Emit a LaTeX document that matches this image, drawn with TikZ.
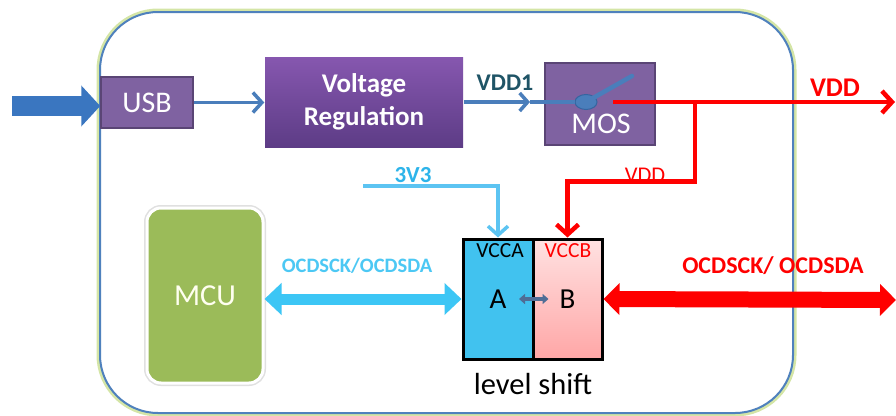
\documentclass[tikz,border=0pt]{standalone}
\usepackage{fontspec}
\setmainfont{Carlito}
\usepackage{xcolor}
\usepackage{tikz}
\usetikzlibrary{arrows.meta, calc, positioning, shapes.geometric}
\definecolor{frameblue}{HTML}{4F81BD}
\definecolor{glowgreen}{HTML}{D4E5A6}
\definecolor{usbpurple}{HTML}{7F62A1}
\definecolor{darkpurple}{HTML}{5A4575}
\definecolor{vregtop}{HTML}{8657AF}
\definecolor{vregbot}{HTML}{5D3C86}
\definecolor{wireblue}{HTML}{4A7EBB}
\definecolor{pivotdark}{HTML}{3565A0}
\definecolor{inblue}{HTML}{3A76C0}
\definecolor{tealtext}{HTML}{1F5466}
\definecolor{skyline}{HTML}{5CC4F2}
\definecolor{skytext}{HTML}{2DB4EA}
\definecolor{skylbl}{HTML}{4CC8F4}
\definecolor{busblue}{HTML}{3CC6F5}
\definecolor{afill}{HTML}{41C2EF}
\definecolor{bfilltop}{HTML}{FFE2E2}
\definecolor{bfillbot}{HTML}{FFA6A6}
\definecolor{mcugreen}{HTML}{9BBB59}
\definecolor{mcutext}{HTML}{FFFFF0}
\definecolor{abarrow}{HTML}{4F6D96}
\newcommand{\fsz}[2]{\fontsize{#1}{#2}\selectfont}

\begin{document}
\begin{tikzpicture}[x=1pt, y=-1pt,
    blk/.style ={draw=darkpurple, line width=1.5pt, fill=usbpurple, text=white, inner sep=0pt, font=\fsz{30}{34}},
    lsbox/.style={draw=black, line width=3pt, minimum width=70pt, minimum height=120pt, inner sep=0pt, font=\fsz{29}{32}},
    lbl/.style ={inner sep=0pt, font=\bfseries\fsz{24}{28}},
    wire/.style={line width=3.5pt, wireblue, -{Straight Barb[length=9pt,width=20pt]}},
    pwr/.style ={line width=4.5pt, red, -{Straight Barb[length=10pt,width=22pt]}},
    bustip/.tip={Triangle[length=17pt,width=31pt]}]
    \useasboundingbox (0,0) rectangle (896,415);
    % board
    \node[draw=frameblue, line width=2pt, fill=white, rounded corners=58pt, minimum width=693pt, minimum height=401pt,
          inner sep=0pt, preaction={draw=glowgreen, line width=7pt}] (board) at (446.5,212.5) {};
    % power path
    \node[blk, minimum width=92pt, minimum height=51pt] (usb) at (147,102.5) {USB};
    \node[blk, draw=none, top color=vregtop, bottom color=vregbot, minimum width=198pt, minimum height=90pt,
          align=center, font=\bfseries\fsz{27}{33}] (vreg) at (364,102) {Voltage\\Regulation};
    \node[blk, minimum width=110pt, minimum height=82pt] (mos) at (600,104) {};
    \node[text=white, font=\fsz{30}{34}, inner sep=0pt] (moslbl) at (601,124) {MOS};
    \node[ellipse, draw=pivotdark, line width=1pt, fill=wireblue, minimum width=22pt, minimum height=15pt, inner sep=0pt] (pivot) at (586,102) {};
    \coordinate (src) at (12,106);
    \coordinate (vddmid) at (530,102);
    \coordinate (lever) at (632,76);
    \coordinate (swout) at (613,102);
    \coordinate (tap) at (695,102);
    \coordinate (vddend) at (895,102);
    \coordinate (v33start) at (363,186);
    \coordinate (busend) at (896,300);
    % level shift
    \node[lsbox, fill=afill] (lsa) at (498,299) {A};
    \node[lsbox, minimum width=69pt, top color=bfilltop, bottom color=bfillbot] (lsb) at (567.5,299) {B};
    \node[font=\fsz{21.5}{24}, inner sep=0pt] (vcca) at (500,251) {VCCA};
    \node[font=\fsz{21.5}{24}, inner sep=0pt, text=red] (vccb) at (568,251) {VCCB};
    \node[font=\fsz{30.5}{34}, inner sep=0pt] (lslbl) at (533,384) {level shift};
    % mcu
    \node[fill=mcugreen, draw=white, line width=3pt, rounded corners=14pt, minimum width=116pt, minimum height=175pt,
          text=mcutext, font=\fsz{30.5}{34}, preaction={draw=black!12, line width=6pt}] (mcu) at (205,295.5) {MCU};
    % labels
    \node[lbl, text=tealtext] (vdd1) at (505,83) {VDD1};
    \node[lbl, text=red, font=\bfseries\fsz{27}{30}] (vddtop) at (835,88) {VDD};
    \node[inner sep=0pt, text=red, font=\fsz{22.5}{26}] (vddbr) at (645,175) {VDD};
    \node[lbl, text=skytext, font=\bfseries\fsz{23}{26}] (v33) at (413,175) {3V3};
    \node[lbl, text=skylbl, font=\bfseries\fsz{20.5}{24}] (ocdl) at (357,266) {OCDSCK/OCDSDA};
    \node[lbl, text=red] (ocdr) at (773,266) {OCDSCK/ OCDSDA};
    % arrows
    \draw[line width=20pt, inblue, -{Triangle[length=19pt,width=40pt]}] (src) -- (src -| usb.west);
    \draw[wire] (usb.east) -- (usb.east -| vreg.west);
    \draw[wire, -{Straight Barb[length=8pt,width=18pt]}] (vreg.east) -- (vddmid);
    \draw[line width=3.5pt, wireblue] (vddmid) -- (pivot.west);
    \draw[line width=4.5pt, wireblue, line cap=round] (pivot.center) -- (lever);
    \draw[pwr] (swout) -- (vddend);
    \draw[pwr] (tap) |- ([yshift=56pt]lsb.north) -- (lsb.north);
    \draw[line width=3.5pt, skyline, -{Straight Barb[length=9pt,width=20pt]}] (v33start) -| (lsa.north);
    \draw[line width=11pt, busblue, bustip-bustip] (mcu.east |- lsa.west) -- (lsa.west);
    \draw[line width=16pt, red, {Triangle[length=16pt,width=31pt]}-{Triangle[length=16pt,width=31pt]}] (lsb.east) -- (busend);
    \draw[line width=4pt, abarrow, {Triangle[length=6pt,width=10pt]}-{Triangle[length=6pt,width=10pt]}] ([xshift=21pt]lsa.center) -- ([xshift=-19pt]lsb.center);
\end{tikzpicture}
\end{document}
